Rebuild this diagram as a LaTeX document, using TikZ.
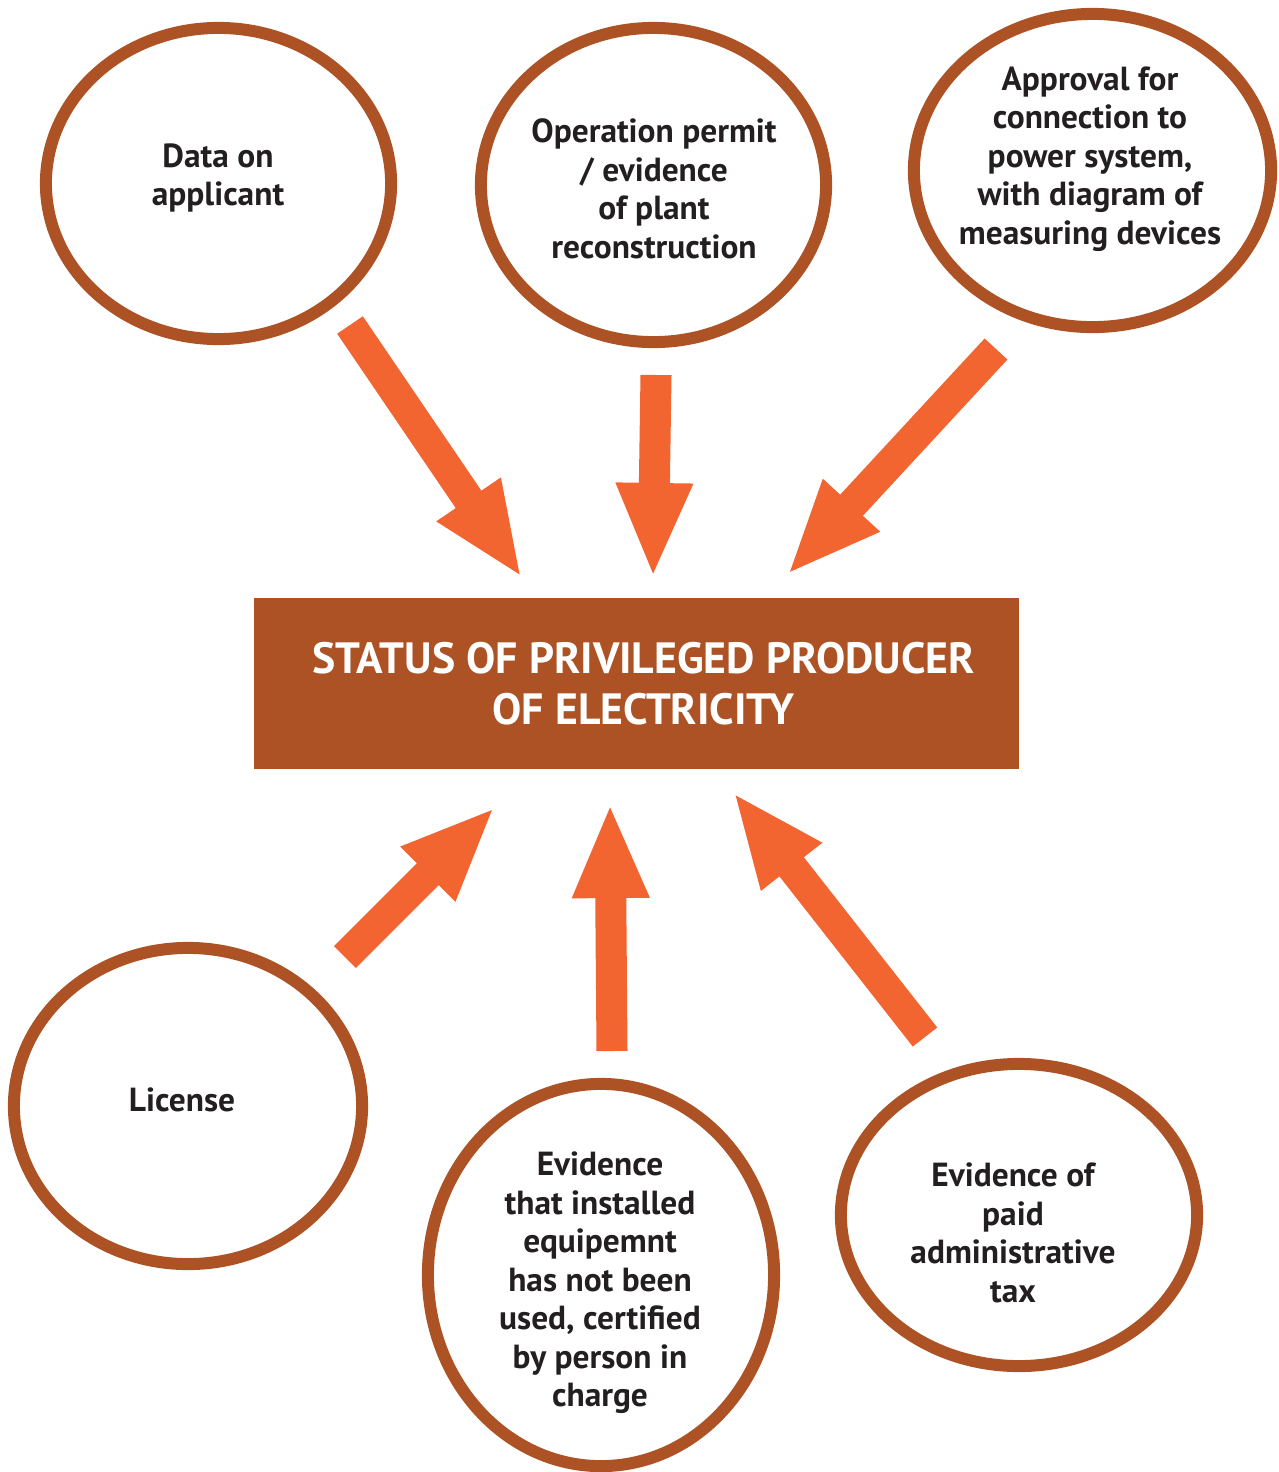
\documentclass[tikz,border=0pt]{standalone}
\usepackage{fontspec}
\setmainfont{PT Sans}
\usepackage{tikz}
\usetikzlibrary{positioning,arrows.meta,shapes.geometric}

\definecolor{rust}{HTML}{AD5225}
\definecolor{flame}{HTML}{F26430}
\definecolor{ink}{HTML}{231F20}

\begin{document}
\begin{tikzpicture}[
  x=0.01cm, y=-0.01cm,
  bub/.style={draw=rust, line width=0.12cm, ellipse, inner sep=0pt},
  txt/.style={align=center, text=ink, font=\fontsize{9.5}{10.95}\selectfont\bfseries},
  status/.style={fill=rust, text=white, align=center, inner sep=0pt,
    minimum width=7.65cm, minimum height=1.71cm,
    font=\fontsize{12.45}{14.5}\selectfont\bfseries},
  push/.style={draw=flame, line width=0.31cm,
    -{Triangle[length=0.95cm, width=0.7cm]}}
]
\useasboundingbox (0,0) rectangle (1279,1472);

% centre box
\node[status] (stat) at (636.5,683.5) {\hspace{0.14cm}STATUS OF PRIVILEGED PRODUCER\\\hspace{0.14cm}OF ELECTRICITY};

% upper row
\node[bub, minimum width=3.45cm, minimum height=3.11cm] (c1) at (218.5,183.5) {};
\node[txt] (t1) at (218,178) {Data on\\applicant};
\node[bub, minimum width=3.45cm, minimum height=3.14cm] (c2) at (653.5,185) {};
\node[txt] (t2) at (654,189) {Operation permit\\/ evidence\\of plant\\reconstruction};
\node[bub, minimum width=3.57cm, minimum height=3.13cm] (c3) at (1092.5,170.5) {};
\node[txt] (t3) at (1090,159) {Approval for\\connection to\\power system,\\with diagram of\\measuring devices};

% lower row
\node[bub, minimum width=3.48cm, minimum height=3.16cm] (c4) at (188,1106) {};
\node[txt] (t4) at (182,1100) {License};
\node[bub, minimum width=3.46cm, minimum height=3.82cm] (c5) at (601,1275) {};
\node[txt] (t5) at (600,1283) {Evidence\\that installed\\equipemnt\\has not been\\used, certified\\by person in\\charge};
\node[bub, minimum width=3.56cm, minimum height=3.02cm] (c6) at (1019,1215) {};
\node[txt] (t6) at (1013,1233) {Evidence of\\paid\\administrative\\tax};

% arrows into the box
\coordinate (a1s) at (350,325);  \coordinate (a1e) at (522,578);
\coordinate (a2s) at (656,375);  \coordinate (a2e) at (653,578);
\coordinate (a3s) at (996,349);  \coordinate (a3e) at (787,575);
\coordinate (a4s) at (345,957);  \coordinate (a4e) at (495,807);
\coordinate (a5s) at (612,1051); \coordinate (a5e) at (610,803);
\coordinate (a6s) at (925,1037); \coordinate (a6e) at (733,792);

\draw[push] (a1s) -- (a1e);
\draw[push] (a2s) -- (a2e);
\draw[push] (a3s) -- (a3e);
\draw[push] (a4s) -- (a4e);
\draw[push] (a5s) -- (a5e);
\draw[push] (a6s) -- (a6e);

\end{tikzpicture}
\end{document}
